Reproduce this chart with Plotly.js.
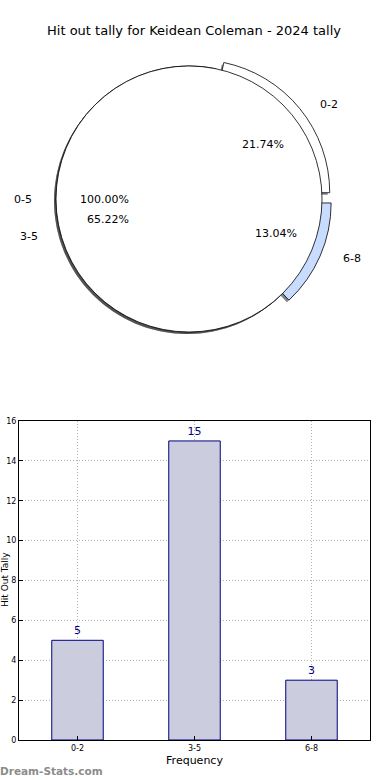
<!DOCTYPE html>
<html>
<head>
<meta charset="utf-8">
<script src="https://cdn.plot.ly/plotly-3.0.1.min.js"></script>
<style>html,body{margin:0;padding:0;background:#fff;}#chart{width:390px;height:780px;}</style>
</head>
<body>
<div id="chart"></div>
<script>
// ---- data ----
const title = "Hit out tally for Keidean Coleman - 2024 tally";
const categories = ["0-2", "3-5", "6-8"];
const counts = [5, 15, 3];
const totalLabel = "0-5";
const explode = [0.075, 0, 0.075];
const sliceColors = ["#ffffff", "#ffffff", "#c8dcff"];
const yTicks = [0, 2, 4, 6, 8, 10, 12, 14, 16];
const xTitle = "Frequency";
const yTitle = "Hit Out Tally";
const watermark = "Dream-Stats.com";

// ---- layout helpers (pixels -> paper) ----
const W = 390, H = 780;
const px = x => x / W;
const py = y => 1 - y / H;
const cx = 189, cy = 199, R = 133;      // pie centre / radius in px
const rx = 141, ry = 128;               // label ellipse (reference aspect)
const maxPull = Math.max(...explode);
const total = counts.reduce((a, b) => a + b, 0);
// first slice starts at 3 o'clock, going counterclockwise
const pieRotation = 90 - 360 * counts[0] / total;

function domainFor(half, dx, dy) {
  return { x: [px(cx + dx - half), px(cx + dx + half)], y: [py(cy + dy + half), py(cy + dy - half)] };
}
const FONT = "DejaVu Sans";
const SHADOW = "rgba(50,50,50,0.6)";

const traces = [];
// shadow of exploded pie
traces.push({
  type: "pie", labels: categories, values: counts, sort: false, direction: "counterclockwise",
  rotation: pieRotation, pull: explode, textinfo: "none", hoverinfo: "skip", showlegend: false,
  marker: { colors: categories.map(() => SHADOW), line: { width: 0 } },
  domain: domainFor(R * (1 + maxPull), -2, 2)
});
// exploded three-slice pie
traces.push({
  type: "pie", labels: categories, values: counts, sort: false, direction: "counterclockwise",
  rotation: pieRotation, pull: explode, textinfo: "none", showlegend: false,
  marker: { colors: sliceColors, line: { color: "#000", width: 0.8 } },
  domain: domainFor(R * (1 + maxPull), 0, 0)
});
// shadow of the whole-range pie
traces.push({
  type: "pie", labels: [totalLabel], values: [total], sort: false, textinfo: "none",
  hoverinfo: "skip", showlegend: false,
  marker: { colors: [SHADOW], line: { width: 0 } },
  domain: domainFor(R, -2, 2)
});
// whole-range pie
traces.push({
  type: "pie", labels: [totalLabel], values: [total], sort: false, textinfo: "none",
  showlegend: false,
  marker: { colors: ["#ffffff"], line: { color: "#000", width: 0.8 } },
  domain: domainFor(R, 0, 0)
});

// bar chart
traces.push({
  type: "bar", x: categories, y: counts, width: 0.44, xaxis: "x", yaxis: "y",
  marker: { color: "#ccccdf", line: { color: "#000080", width: 1 } },
  text: counts.map(String), textposition: "outside", cliponaxis: false,
  textfont: { family: FONT, size: 11, color: "#000080" }, showlegend: false
});

// pie labels (matplotlib-style: labels at 1.1r, percentages at 0.6r)
const annotations = [];
function addPieText(label, pct, startFrac, frac, exp) {
  const mid = (startFrac + frac / 2) * 2 * Math.PI;
  const c = Math.cos(mid), s = Math.sin(mid);
  const ox = exp * rx * c, oy = exp * ry * s;
  const lx = cx + ox + 1.1 * rx * c, ly = cy - (oy + 1.1 * ry * s);
  const tx = cx + ox + 0.6 * rx * c, ty = cy - (oy + 0.6 * ry * s);
  annotations.push({ x: px(lx), y: py(ly), xref: "paper", yref: "paper", text: label, showarrow: false,
    xanchor: c > 0 ? "left" : "right", yanchor: "middle", font: { family: FONT, size: 11, color: "#000" } });
  annotations.push({ x: px(tx), y: py(ty), xref: "paper", yref: "paper", text: pct, showarrow: false,
    xanchor: "center", yanchor: "middle", font: { family: FONT, size: 11, color: "#000" } });
}
addPieText(totalLabel, "100.00%", 0, 1, 0);
let cum = 0;
categories.forEach((cat, i) => {
  const f = counts[i] / total;
  addPieText(cat, (f * 100).toFixed(2) + "%", cum, f, explode[i]);
  cum += f;
});
annotations.push({ x: 0, y: py(771), xref: "paper", yref: "paper", text: "<b>" + watermark + "</b>",
  showarrow: false, xanchor: "left", yanchor: "middle", xshift: -2,
  font: { family: FONT, size: 10.5, color: "#8c8c8c" } });
// y-axis title at the far left edge
annotations.push({ x: px(5), y: py(580), xref: "paper", yref: "paper", text: yTitle, textangle: -90,
  showarrow: false, xanchor: "center", yanchor: "middle", font: { family: FONT, size: 9, color: "#000" } });

const layout = {
  width: W, height: H, margin: { l: 0, r: 0, t: 0, b: 0 },
  paper_bgcolor: "#fff", plot_bgcolor: "#fff", showlegend: false,
  title: { text: title, x: px(194), xanchor: "center", y: py(30), yanchor: "middle", yref: "paper",
    font: { family: FONT, size: 13, color: "#000" } },
  xaxis: {
    domain: [px(19), px(370)], anchor: "y", type: "category", range: [-0.5, 2.5],
    showline: true, mirror: true, linecolor: "#000", linewidth: 1,
    ticks: "inside", ticklen: 4, tickcolor: "#000",
    showgrid: true, gridcolor: "#b0b0b0", griddash: "1px,2px", gridwidth: 1,
    tickfont: { family: FONT, size: 8, color: "#000" },
    title: { text: xTitle, standoff: 4, font: { family: FONT, size: 11, color: "#000" } },
    automargin: false, zeroline: false, fixedrange: true
  },
  yaxis: {
    domain: [py(740), py(421)], anchor: "x", range: [0, 16], tickvals: yTicks,
    showline: true, mirror: true, linecolor: "#000", linewidth: 1,
    ticks: "inside", ticklen: 4, tickcolor: "#000",
    showgrid: true, gridcolor: "#b0b0b0", griddash: "1px,2px", gridwidth: 1,
    tickfont: { family: FONT, size: 8, color: "#000" },
    automargin: false, zeroline: false, fixedrange: true
  },
  annotations: annotations
};

Plotly.newPlot("chart", traces, layout, { staticPlot: true, displayModeBar: false });
</script>
</body>
</html>
